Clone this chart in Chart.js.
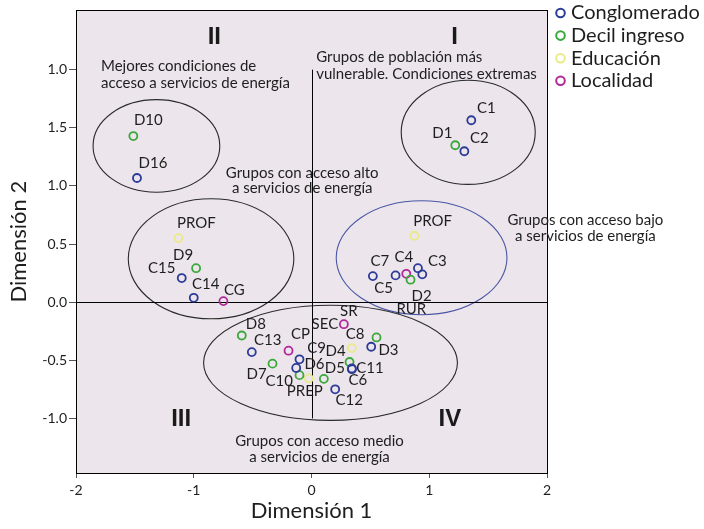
<!DOCTYPE html>
<html>
<head>
<meta charset="utf-8">
<script src="https://cdn.jsdelivr.net/npm/chart.js@4.4.1/dist/chart.umd.min.js"></script>
<style>
  html, body { margin: 0; padding: 0; background: #fff; }
  #wrap { width: 704px; height: 529px; }
</style>
</head>
<body>
<div id="wrap"><canvas id="chart" width="704" height="529"></canvas></div>
<script>
// Conglomerado
var conglomeradoNames = ['C1', 'C2', 'C3', 'C4', 'C5', 'C6', 'C7', 'C8', 'C9', 'C10', 'C11', 'C12', 'C13', 'C14', 'C15', 'D16'];
var conglomeradoX = [1.357, 1.298, 0.941, 0.904, 0.714, 0.343, 0.521, 0.507, -0.102, -0.130, 0.343, 0.201, -0.507, -1.000, -1.102, -1.482];
var conglomeradoY = [1.565, 1.298, 0.239, 0.292, 0.230, -0.577, 0.224, -0.384, -0.492, -0.566, -0.571, -0.750, -0.430, 0.037, 0.207, 1.068];

// Decil ingreso
var decilNames = ['D1', 'D2', 'D3', 'D4', 'D5', 'D6', 'D7', 'D8', 'D9', 'D10'];
var decilX = [1.221, 0.841, 0.552, 0.323, 0.105, -0.102, -0.331, -0.592, -0.980, -1.513];
var decilY = [1.350, 0.193, -0.304, -0.515, -0.660, -0.628, -0.529, -0.287, 0.292, 1.429];

// Educación
var educacionNames = ['PROF', 'PROF', 'SEC', 'PREP'];
var educacionX = [-1.130, 0.875, 0.343, -0.023];
var educacionY = [0.551, 0.571, -0.395, -0.656];

// Localidad
var localidadNames = ['CG', 'RUR', 'SR', 'CP'];
var localidadX = [-0.748, 0.805, 0.275, -0.195];
var localidadY = [0.009, 0.244, -0.190, -0.418];

var xTickValues = [-2, -1, 0, 1, 2];
var xTickLabels = ['-2', '-1', '0', '1', '2'];
var yTickValues = [-1, -0.5, 0, 0.5, 1, 1.5, 2];
var yTickLabels = ['-1.0', '-0.5', '0.0', '0.5', '1.0', '1.5', '1.0'];

// label offsets in pixels from each point (dx, dy)
var labelOffsets = {
  conglomerado: [[15, -12], [15, -13], [15, -13], [-14, -11], [-12, 13], [6, 11], [7, -15], [-16, -13], [17, -11], [-17, 13], [18, 0], [14, 11], [16, -12], [12, -14], [-20, -10], [16, -15]],
  decil: [[-13, -12], [11, 16], [12, 13], [-14, -11], [11, -11], [15, -11], [-16, 11], [14, -11], [-13, -13], [15, -16]],
  educacion: [[18, -15], [18, -15], [-27, -24], [-4, 13]],
  localidad: [[11, -11], [5, 35], [5, -13], [12, -17]]
};

// group ellipses (centre and radii in axis units)
var groups = [
  { cx: -1.317, cy: 1.344, rx: 0.538, ry: 0.398, color: '#2a2a2a' },
  { cx: 1.331, cy: 1.461, rx: 0.569, ry: 0.448, color: '#2a2a2a' },
  { cx: -0.853, cy: 0.373, rx: 0.703, ry: 0.516, color: '#2a2a2a' },
  { cx: 0.935, cy: 0.382, rx: 0.725, ry: 0.490, color: '#4a57a6' },
  { cx: 0.1615, cy: -0.522, rx: 1.078, ry: 0.495, color: '#2a2a2a' }
];

var notes = [
  { text: 'II', x: -0.825, y: 2.276, align: 'center', bold: true },
  { text: 'I', x: 1.215, y: 2.276, align: 'center', bold: true },
  { text: 'III', x: -1.107, y: -1.005, align: 'center', bold: true },
  { text: 'IV', x: 1.175, y: -1.012, align: 'center', bold: true },
  { text: 'Mejores condiciones de', x: -1.788, y: 2.034, align: 'left' },
  { text: 'acceso a servicios de energía', x: -1.788, y: 1.887, align: 'left' },
  { text: 'Grupos de población más', x: 0.04, y: 2.106, align: 'left' },
  { text: 'vulnerable. Condiciones extremas', x: 0.04, y: 1.963, align: 'left' },
  { text: 'Grupos con acceso alto', x: -0.079, y: 1.111, align: 'center' },
  { text: 'a servicios de energía', x: -0.079, y: 0.977, align: 'center' },
  { text: 'Grupos con acceso bajo', x: 2.326, y: 0.702, align: 'center' },
  { text: 'a servicios de energía', x: 2.326, y: 0.567, align: 'center' },
  { text: 'Grupos con acceso medio', x: 0.068, y: -1.199, align: 'center' },
  { text: 'a servicios de energía', x: 0.068, y: -1.336, align: 'center' }
];

var FONT = 'Lato, "Noto Sans", sans-serif';

function toPoints(xs, ys) {
  return xs.map(function (x, i) { return { x: x, y: ys[i] }; });
}

function series(label, key, names, xs, ys, color) {
  return {
    label: label,
    key: key,
    names: names,
    data: toPoints(xs, ys),
    borderColor: color,
    backgroundColor: 'rgba(0,0,0,0)',
    pointRadius: 4,
    pointHoverRadius: 4,
    pointBorderWidth: 1.8,
    showLine: false
  };
}

var backdrop = {
  id: 'backdrop',
  beforeDraw: function (chart) {
    var a = chart.chartArea, ctx = chart.ctx;
    ctx.save();
    ctx.fillStyle = '#ece5eb';
    ctx.fillRect(a.left, a.top, a.right - a.left, a.bottom - a.top);
    ctx.restore();
  },
  beforeDatasetsDraw: function (chart) {
    var ctx = chart.ctx, xs = chart.scales.x, ys = chart.scales.y;
    ctx.save();
    ctx.lineWidth = 1.1;
    groups.forEach(function (g) {
      var px = xs.getPixelForValue(g.cx), py = ys.getPixelForValue(g.cy);
      var rx = Math.abs(xs.getPixelForValue(g.cx + g.rx) - px);
      var ry = Math.abs(ys.getPixelForValue(g.cy + g.ry) - py);
      ctx.strokeStyle = g.color;
      ctx.beginPath();
      ctx.ellipse(px, py, rx, ry, 0, 0, Math.PI * 2);
      ctx.stroke();
    });
    // reference lines
    ctx.lineWidth = 1;
    ctx.strokeStyle = '#000';
    ctx.beginPath();
    var y0 = Math.round(ys.getPixelForValue(0)) + 0.5;
    ctx.moveTo(xs.getPixelForValue(-2), y0);
    ctx.lineTo(xs.getPixelForValue(2), y0);
    var x0 = Math.round(xs.getPixelForValue(0)) + 0.5;
    ctx.moveTo(x0, ys.getPixelForValue(2));
    ctx.lineTo(x0, ys.getPixelForValue(-1));
    ctx.stroke();
    ctx.restore();
  },
  afterDatasetsDraw: function (chart) {
    var ctx = chart.ctx, a = chart.chartArea, xs = chart.scales.x, ys = chart.scales.y;
    ctx.save();
    // frame
    ctx.strokeStyle = '#000';
    ctx.lineWidth = 1;
    ctx.strokeRect(Math.round(a.left) + 0.5, Math.round(a.top) + 0.5, Math.round(a.right - a.left), Math.round(a.bottom - a.top));

    // point labels
    ctx.fillStyle = '#1e1e1e';
    ctx.font = '15px ' + FONT;
    ctx.textAlign = 'center';
    ctx.textBaseline = 'middle';
    chart.data.datasets.forEach(function (ds, di) {
      var meta = chart.getDatasetMeta(di);
      meta.data.forEach(function (pt, i) {
        var off = labelOffsets[ds.key][i];
        ctx.fillText(ds.names[i], pt.x + off[0], pt.y + off[1]);
      });
    });

    // notes
    notes.forEach(function (n) {
      ctx.font = n.bold ? 'bold 24px "Liberation Sans", Arial, sans-serif' : '15px ' + FONT;
      ctx.fillStyle = n.bold ? '#1a1a1a' : '#1e1e1e';
      ctx.textAlign = n.align;
      ctx.fillText(n.text, xs.getPixelForValue(n.x), ys.getPixelForValue(n.y));
    });

    // legend
    ctx.textAlign = 'left';
    ctx.font = '20px ' + FONT;
    chart.data.datasets.forEach(function (ds, i) {
      var y = 13 + i * 22.6;
      ctx.strokeStyle = ds.borderColor;
      ctx.lineWidth = 2;
      ctx.beginPath();
      ctx.arc(560.5, y, 4.3, 0, Math.PI * 2);
      ctx.stroke();
      ctx.fillStyle = '#1e1e1e';
      ctx.fillText(ds.label, 571, y);
    });
    ctx.restore();
  }
};

var tickFont = { family: FONT, size: 14 };

new Chart(document.getElementById('chart').getContext('2d'), {
  type: 'scatter',
  data: {
    datasets: [
      series('Conglomerado', 'conglomerado', conglomeradoNames, conglomeradoX, conglomeradoY, '#2b3b98'),
      series('Decil ingreso', 'decil', decilNames, decilX, decilY, '#3aa83a'),
      series('Educación', 'educacion', educacionNames, educacionX, educacionY, '#eaea86'),
      series('Localidad', 'localidad', localidadNames, localidadX, localidadY, '#b0299b')
    ]
  },
  options: {
    responsive: false,
    animation: false,
    layout: { padding: { top: 6, right: 157, left: 0, bottom: 0 } },
    plugins: {
      legend: { display: false },
      tooltip: { enabled: false }
    },
    scales: {
      x: {
        type: 'linear',
        min: -2,
        max: 2,
        afterBuildTicks: function (s) { s.ticks = xTickValues.map(function (v) { return { value: v }; }); },
        afterFit: function (s) { s.height = 56; },
        ticks: {
          autoSkip: false,
          maxRotation: 0,
          padding: 4,
          color: '#1e1e1e',
          font: tickFont,
          callback: function (v, i) { return xTickLabels[i]; }
        },
        grid: { drawOnChartArea: false, tickLength: 5, color: '#555' },
        border: { display: false },
        title: {
          display: true,
          text: 'Dimensión 1',
          color: '#1e1e1e',
          font: { family: FONT, size: 22 },
          padding: { top: 0, bottom: 5 }
        }
      },
      y: {
        type: 'linear',
        min: -1.47,
        max: 2.51,
        afterBuildTicks: function (s) { s.ticks = yTickValues.map(function (v) { return { value: v }; }); },
        afterFit: function (s) { s.width = 76; },
        ticks: {
          autoSkip: false,
          padding: 2,
          color: '#1e1e1e',
          font: tickFont,
          callback: function (v, i) { return yTickLabels[i]; }
        },
        grid: { drawOnChartArea: false, tickLength: 7, color: '#555' },
        border: { display: false },
        title: {
          display: true,
          text: 'Dimensión 2',
          color: '#1e1e1e',
          font: { family: FONT, size: 22 },
          padding: { top: 6, bottom: 0 }
        }
      }
    }
  },
  plugins: [backdrop]
});
</script>
</body>
</html>
